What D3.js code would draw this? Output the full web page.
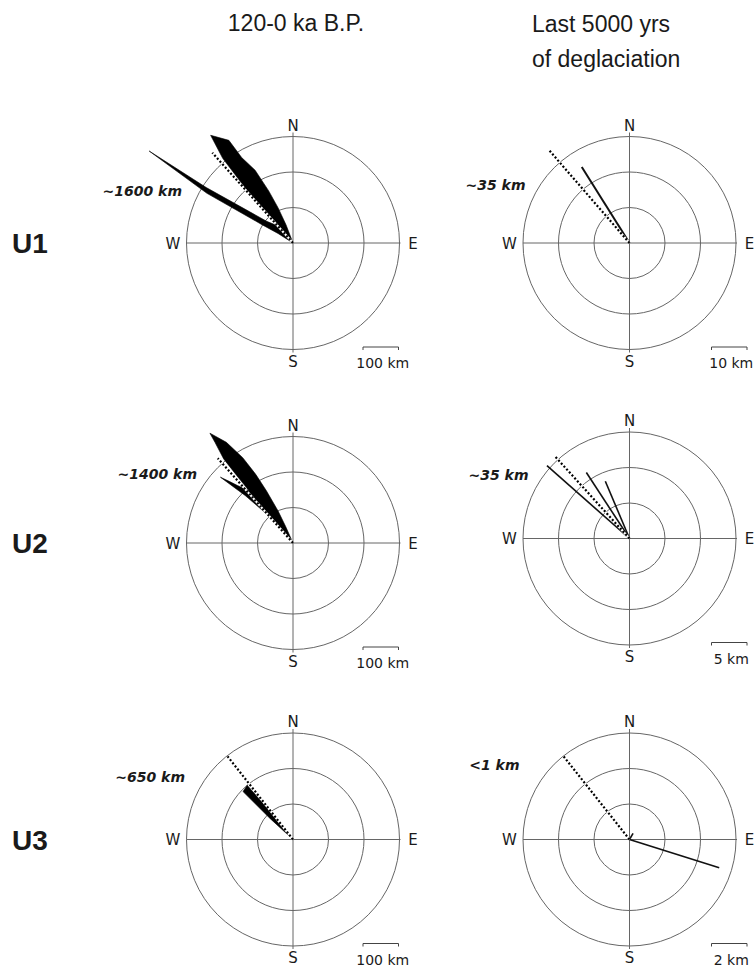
<!DOCTYPE html>
<html>
<head>
<meta charset="utf-8">
<script src="https://cdn.jsdelivr.net/npm/d3@7"></script>
<style>
  body { margin: 0; background: #fff; }
  text { font-family: "DejaVu Sans", sans-serif; fill: #1a1a1a; }
</style>
</head>
<body>
<div id="chart"></div>
<script>
var rowNames = ["U1", "U2", "U3"];
var columnTitles = [["120-0 ka B.P."], ["Last 5000 yrs", "of deglaciation"]];
var compassLabels = ["N", "E", "S", "W"];
var compassBearings = [0, 90, 180, 270];

// one entry per panel, row by row: U1 left, U1 right, U2 left, U2 right, U3 left, U3 right
var ringKm = [[100, 200, 300], [10, 20, 30], [100, 200, 300], [5, 10, 15], [100, 200, 300], [2, 4, 6]];
var scaleBarKm = [100, 10, 100, 5, 100, 2];
var scaleBarLabels = ["100 km", "10 km", "100 km", "5 km", "100 km", "2 km"];
var distanceLabels = ["~1600 km", "~35 km", "~1400 km", "~35 km", "~650 km", "<1 km"];

// dotted mean flow vector: [bearing deg, km]
var meanVectors = [[318.2, 341], [319.1, 34.8], [318.4, 319], [317.8, 15.6], [321.8, 298], [321.6, 5.97]];

// filled flow envelopes, outline points as [bearing deg, km]
var flowShapes = [
    [
        [[0, 0], [316.5, 60], [318.8, 192], [320.3, 310], [322.6, 382], [328, 341], [329, 281], [332.5, 231], [335, 162], [337, 108], [339, 55]],
        [[0, 0], [302.5, 50], [300.6, 100], [300, 280], [302.6, 481], [302.6, 290], [305.8, 150], [309.5, 96], [316, 70]]
    ],
    [],
    [
        [[0, 0], [319.3, 90], [314.8, 190], [312.2, 276], [314, 250], [316, 225], [319.9, 193], [320.2, 247], [320.5, 307],
         [322.2, 358], [322.9, 388], [326.5, 340], [329.5, 279], [331.5, 220], [333, 165], [335, 100], [336, 50]]
    ],
    [],
    [
        [[0, 0], [312.5, 87], [313.8, 195], [319.8, 200], [321, 101], [323, 40]]
    ],
    []
];

// single solid flow lines: [bearing deg, km]
var flowLines = [
    [],
    [[327.9, 25.3]],
    [],
    [[311.4, 15.5], [326.8, 11.1], [337.1, 8.75]],
    [],
    [[107.5, 5.3], [30, 0.4]]
];

var width = 756, height = 967, R = 106.5;
var colX = [293, 629.5];
var rowY = [[243, 243], [543, 538.5], [839.5, 839.5]];
// right end / vertical middle of the distance label, relative to the panel centre
var labelOffsets = [[-111, -52], [-104, -58], [-96, -69], [-101, -64], [-108, -63], [-110, -75]];
var barOffsetX = [70, 82];

var svg = d3.select("#chart").append("svg")
    .attr("width", width)
    .attr("height", height);

// column titles
svg.append("text").text(columnTitles[0][0])
    .attr("x", 296).attr("y", 31)
    .attr("text-anchor", "middle")
    .style("font-family", "'Liberation Sans', Arial, sans-serif")
    .style("font-size", "23px");

svg.selectAll(".title2").data(columnTitles[1]).enter()
    .append("text").attr("class", "title2")
    .text(function(d) { return d; })
    .attr("x", 532)
    .attr("y", function(d, i) { return 32 + i * 35; })
    .style("font-family", "'Liberation Sans', Arial, sans-serif")
    .style("font-size", "23px");

// row names
svg.selectAll(".rowname").data(rowNames).enter()
    .append("text").attr("class", "rowname")
    .text(function(d) { return d; })
    .attr("x", 12)
    .attr("y", function(d, i) { return rowY[i][0] + 10; })
    .style("font-family", "'Liberation Sans', Arial, sans-serif")
    .style("font-weight", "bold")
    .style("font-size", "28px");

function panel(i) {
    var row = Math.floor(i / 2), col = i % 2;
    var cx = colX[col], cy = rowY[row][col];
    var r = d3.scaleLinear().domain([0, d3.max(ringKm[i])]).range([0, R]);
    var g = svg.append("g").attr("transform", "translate(" + cx + "," + cy + ")");

    // rings
    g.selectAll(".ring").data(ringKm[i]).enter()
        .append("circle").attr("class", "ring")
        .attr("r", function(d) { return r(d); })
        .attr("fill", "none")
        .attr("stroke", "#666")
        .attr("stroke-width", 1);

    // cross axes
    g.append("line").attr("x1", -R).attr("x2", R + 1).attr("y1", 0).attr("y2", 0)
        .attr("stroke", "#666").attr("stroke-width", 1);
    g.append("line").attr("x1", 0).attr("x2", 0).attr("y1", -R - 4).attr("y2", R + 3)
        .attr("stroke", "#666").attr("stroke-width", 1);

    // compass points
    g.selectAll(".compass").data(compassLabels).enter()
        .append("text").attr("class", "compass")
        .text(function(d) { return d; })
        .attr("x", function(d, k) { return 120 * Math.sin(compassBearings[k] * Math.PI / 180); })
        .attr("y", function(d, k) { return -118 * Math.cos(compassBearings[k] * Math.PI / 180) + 5.5; })
        .attr("text-anchor", "middle")
        .style("font-size", "15px");

    var radial = d3.lineRadial()
        .angle(function(d) { return d[0] * Math.PI / 180; })
        .radius(function(d) { return r(d[1]); });

    // filled envelopes
    g.selectAll(".shape").data(flowShapes[i]).enter()
        .append("path").attr("class", "shape")
        .attr("d", radial.curve(d3.curveLinearClosed))
        .attr("fill", "#000")
        .attr("stroke", "#000")
        .attr("stroke-width", 0.6)
        .attr("stroke-linejoin", "round");

    // solid lines
    radial.curve(d3.curveLinear);
    g.selectAll(".fline").data(flowLines[i]).enter()
        .append("path").attr("class", "fline")
        .attr("d", function(d) { return radial([[d[0], 0], d]); })
        .attr("fill", "none")
        .attr("stroke", "#111")
        .attr("stroke-width", i == 1 ? 2 : 1.6);

    // dotted mean vector: white under, black dashes over
    var mv = radial([[meanVectors[i][0], 0], meanVectors[i]]);
    g.append("path").attr("d", mv)
        .attr("stroke", "#fff").attr("stroke-width", 2.2).attr("fill", "none");
    g.append("path").attr("d", mv)
        .attr("stroke", "#000").attr("stroke-width", 2.2).attr("fill", "none")
        .attr("stroke-dasharray", "2,2");

    // distance label
    g.append("text").text(distanceLabels[i])
        .attr("x", labelOffsets[i][0])
        .attr("y", labelOffsets[i][1] + 5)
        .attr("text-anchor", "end")
        .style("font-weight", "bold")
        .style("font-style", "italic")
        .style("font-size", "14px");

    // scale bar
    var bx = barOffsetX[col], bw = r(scaleBarKm[i]), by = 104;
    g.append("path")
        .attr("d", "M" + bx + "," + (by + 3) + "V" + by + "H" + (bx + bw) + "V" + (by + 3))
        .attr("fill", "none").attr("stroke", "#444").attr("stroke-width", 1);
    g.append("text").text(scaleBarLabels[i])
        .attr("x", bx + bw / 2 + 2)
        .attr("y", by + 21)
        .attr("text-anchor", "middle")
        .style("font-size", "14px");
}

for (var i = 0; i < 6; i++) panel(i);
</script>
</body>
</html>
